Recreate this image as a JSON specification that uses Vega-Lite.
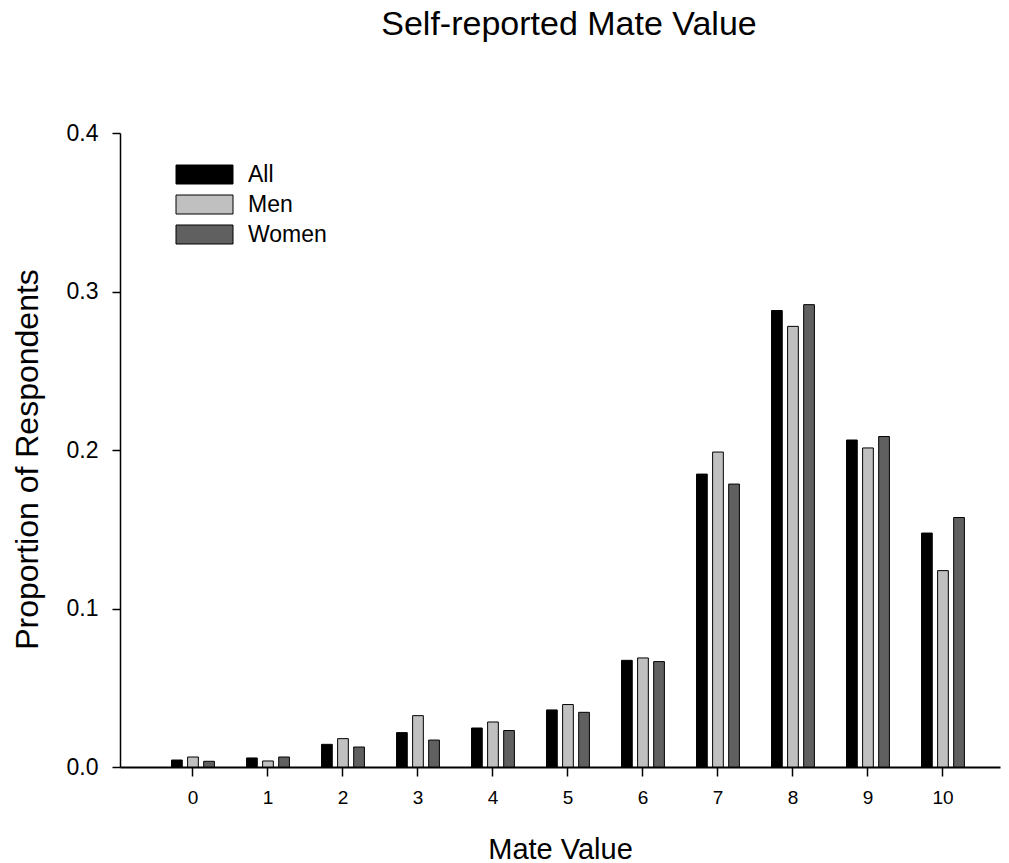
{
  "$schema": "https://vega.github.io/schema/vega-lite/v6.json",
  "width": 880,
  "height": 634,
  "autosize": "none",
  "padding": {"left": 120, "top": 133, "right": 9, "bottom": 96},
  "background": "white",
  "title": {"text": "Self-reported Mate Value", "fontSize": 34, "font": "Liberation Sans", "fontWeight": "normal", "color": "black", "anchor": "middle", "offset": 80, "dx": 9},
  "data": {"values": [
    {"mate": 0, "group": "All", "proportion": 0.0044},
    {"mate": 0, "group": "Men", "proportion": 0.0063},
    {"mate": 0, "group": "Women", "proportion": 0.0036},
    {"mate": 1, "group": "All", "proportion": 0.0057},
    {"mate": 1, "group": "Men", "proportion": 0.0038},
    {"mate": 1, "group": "Women", "proportion": 0.0063},
    {"mate": 2, "group": "All", "proportion": 0.0143},
    {"mate": 2, "group": "Men", "proportion": 0.0179},
    {"mate": 2, "group": "Women", "proportion": 0.0126},
    {"mate": 3, "group": "All", "proportion": 0.0217},
    {"mate": 3, "group": "Men", "proportion": 0.0324},
    {"mate": 3, "group": "Women", "proportion": 0.017},
    {"mate": 4, "group": "All", "proportion": 0.0246},
    {"mate": 4, "group": "Men", "proportion": 0.0284},
    {"mate": 4, "group": "Women", "proportion": 0.023},
    {"mate": 5, "group": "All", "proportion": 0.036},
    {"mate": 5, "group": "Men", "proportion": 0.0394},
    {"mate": 5, "group": "Women", "proportion": 0.0345},
    {"mate": 6, "group": "All", "proportion": 0.0673},
    {"mate": 6, "group": "Men", "proportion": 0.0688},
    {"mate": 6, "group": "Women", "proportion": 0.0665},
    {"mate": 7, "group": "All", "proportion": 0.1848},
    {"mate": 7, "group": "Men", "proportion": 0.1987},
    {"mate": 7, "group": "Women", "proportion": 0.1785},
    {"mate": 8, "group": "All", "proportion": 0.288},
    {"mate": 8, "group": "Men", "proportion": 0.278},
    {"mate": 8, "group": "Women", "proportion": 0.2917},
    {"mate": 9, "group": "All", "proportion": 0.2063},
    {"mate": 9, "group": "Men", "proportion": 0.2013},
    {"mate": 9, "group": "Women", "proportion": 0.2085},
    {"mate": 10, "group": "All", "proportion": 0.1476},
    {"mate": 10, "group": "Men", "proportion": 0.1239},
    {"mate": 10, "group": "Women", "proportion": 0.1574}
  ]},
  "mark": {"type": "bar", "stroke": "black", "strokeWidth": 1},
  "encoding": {
    "x": {
      "field": "mate", "type": "ordinal",
      "sort": [0, 1, 2, 3, 4, 5, 6, 7, 8, 9, 10],
      "scale": {"paddingInner": 0, "paddingOuter": 0.3667, "align": 0.645},
      "axis": {
        "title": "Mate Value", "titleFont": "Liberation Sans", "titleFontSize": 29, "titleFontWeight": "normal", "titleColor": "black", "titlePadding": 28,
        "labelFont": "Liberation Sans", "labelFontSize": 19, "labelColor": "black", "labelAngle": 0, "labelPadding": 12,
        "domainColor": "black", "domainWidth": 2, "tickColor": "black", "tickSize": 9, "tickWidth": 1.5, "grid": false
      }
    },
    "xOffset": {
      "field": "group", "type": "nominal", "sort": ["All", "Men", "Women"],
      "scale": {"paddingInner": 0.333, "paddingOuter": 1.1667}
    },
    "y": {
      "field": "proportion", "type": "quantitative",
      "scale": {"domain": [0, 0.4], "nice": false},
      "axis": {
        "title": "Proportion of Respondents", "titleFont": "Liberation Sans", "titleFontSize": 32, "titleFontWeight": "normal", "titleColor": "black", "titlePadding": 22, "titleY": 326,
        "values": [0, 0.1, 0.2, 0.3, 0.4], "format": ".1f",
        "labelFont": "Liberation Sans", "labelFontSize": 23, "labelColor": "black", "labelPadding": 14,
        "domainColor": "black", "domainWidth": 1.5, "tickColor": "black", "tickSize": 8, "tickWidth": 1.5, "grid": false
      }
    },
    "fill": {
      "field": "group", "type": "nominal",
      "scale": {"domain": ["All", "Men", "Women"], "range": ["#000000", "#c0c0c0", "#606060"]},
      "legend": {
        "title": null, "orient": "none", "legendX": 73, "legendY": 30,
        "symbolType": "M-3,-1H3V1H-3Z", "symbolSize": 361,
        "symbolStrokeColor": "black", "symbolStrokeWidth": 1, "symbolOpacity": 1,
        "labelFont": "Liberation Sans", "labelFontSize": 23, "labelColor": "black", "labelOffset": 32,
        "rowPadding": 6
      }
    }
  },
  "config": {"view": {"stroke": null}}
}
